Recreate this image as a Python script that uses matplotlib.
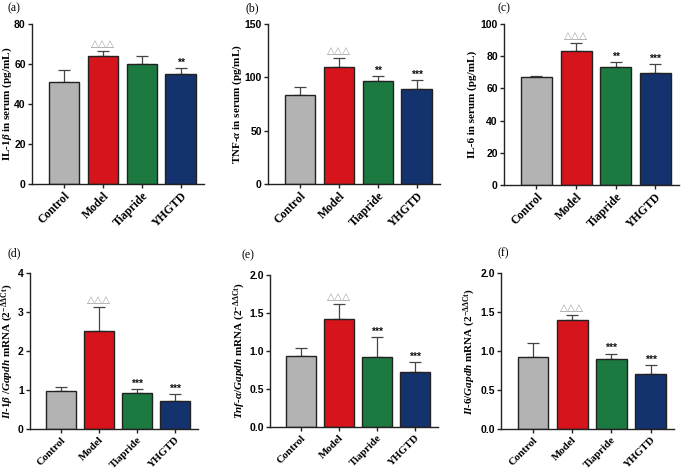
import numpy as np
import matplotlib
matplotlib.use("Agg")
import matplotlib.pyplot as plt

plt.rcParams["mathtext.fontset"] = "custom"
plt.rcParams["mathtext.rm"] = "Liberation Serif:bold"
plt.rcParams["mathtext.it"] = "Liberation Serif:italic:bold"
plt.rcParams["mathtext.bf"] = "Liberation Serif:bold"

groups = ["Control", "Model", "Tiapride", "YHGTD"]
colors = ["#b3b3b3", "#d6141c", "#1c7a40", "#14336e"]

# mean values and upper error (SD)
il1b_serum = [50.8, 64.0, 60.2, 54.9]
il1b_serum_err = [6.1, 2.7, 4.0, 3.0]
tnfa_serum = [83.9, 109.3, 96.1, 89.3]
tnfa_serum_err = [7.5, 9.1, 5.4, 7.8]
il6_serum = [66.9, 83.0, 73.5, 69.4]
il6_serum_err = [1.0, 5.0, 2.7, 5.5]
il1b_mrna = [0.975, 2.51, 0.915, 0.72]
il1b_mrna_err = [0.11, 0.61, 0.115, 0.18]
tnfa_mrna = [0.935, 1.426, 0.92, 0.73]
tnfa_mrna_err = [0.105, 0.19, 0.26, 0.12]
il6_mrna = [0.928, 1.40, 0.90, 0.708]
il6_mrna_err = [0.17, 0.057, 0.066, 0.112]

panels = [
    ("(a)", il1b_serum, il1b_serum_err, r"IL-1$\beta$ in serum (pg/mL)",
     (0, 80), np.arange(0, 81, 20), "{:.0f}", ["", "ddd", "", "**"]),
    ("(b)", tnfa_serum, tnfa_serum_err, r"TNF-$\alpha$ in serum (pg/mL)",
     (0, 150), np.arange(0, 151, 50), "{:.0f}", ["", "ddd", "**", "***"]),
    ("(c)", il6_serum, il6_serum_err, "IL-6 in serum (pg/mL)",
     (0, 100), np.arange(0, 101, 20), "{:.0f}", ["", "ddd", "**", "***"]),
    ("(d)", il1b_mrna, il1b_mrna_err,
     r"$Il$-$1\beta$ /$Gapdh$ mRNA (2$^{-\Delta\Delta \mathrm{Ct}}$)",
     (0, 4), np.arange(0, 5, 1), "{:.0f}", ["", "ddd", "***", "***"]),
    ("(e)", tnfa_mrna, tnfa_mrna_err,
     r"$Tnf$-$\alpha$/$Gapdh$ mRNA (2$^{-\Delta\Delta \mathrm{Ct}}$)",
     (0, 2), np.arange(0, 2.01, 0.5), "{:.1f}", ["", "ddd", "***", "***"]),
    ("(f)", il6_mrna, il6_mrna_err,
     r"$Il$-$6$/$Gapdh$ mRNA (2$^{-\Delta\Delta \mathrm{Ct}}$)",
     (0, 2), np.arange(0, 2.01, 0.5), "{:.1f}", ["", "ddd", "***", "***"]),
]

# axes boxes in pixels: left, top, right, bottom
W, H = 689, 473
boxes = [
    (32, 24, 204, 184),
    (268, 24, 440, 184),
    (504, 24, 679, 185),
    (30, 273, 198, 429),
    (270, 275, 438, 427),
    (501, 273, 674, 429),
]
letter_pos = [(7, 8), (245, 8), (497, 8), (7, 253), (242, 255), (498, 253)]
ylabel_x = [7.5, 237.5, 472, 8, 240, 470]
xlabel_size = [8.5, 8.5, 8.5, 7.8, 7.8, 7.8]

fig = plt.figure(figsize=(W / 100, H / 100), dpi=100)
x = np.arange(len(groups))

for (letter, vals, err, ylabel, ylim, yticks, fmt, marks), box, lp, lx, xs in zip(
        panels, boxes, letter_pos, ylabel_x, xlabel_size):
    l, t, r, b = box
    ax = fig.add_axes([l / W, 1 - b / H, (r - l) / W, (b - t) / H])
    ax.bar(x, vals, width=0.78, color=colors, edgecolor="#222222", linewidth=1.0, zorder=2)
    ax.errorbar(x, vals, yerr=[np.zeros(len(vals)), err], fmt="none",
                ecolor="#444444", elinewidth=0.9, capsize=4, capthick=0.9, zorder=1)
    ax.set_xlim(-0.82, 3.6)
    ax.set_ylim(*ylim)
    ax.set_yticks(yticks)
    ax.set_yticklabels([fmt.format(v) for v in yticks], fontsize=7.5,
                       fontweight="bold", family="Liberation Sans")
    ax.set_xticks(x)
    ax.set_xticklabels(groups, rotation=45, ha="right", rotation_mode="anchor",
                       fontsize=xs, fontweight="bold", family="Liberation Serif")
    for s in ["top", "right"]:
        ax.spines[s].set_visible(False)
    for s in ["left", "bottom"]:
        ax.spines[s].set_linewidth(1.0)
        ax.spines[s].set_color("#222222")
    ax.tick_params(direction="out", length=3, width=1.0, color="#222222", pad=1.5)

    span = ylim[1] - ylim[0]
    for xi, v, e, m in zip(x, vals, err, marks):
        if not m:
            continue
        top = v + e + span * 0.012
        if m == "ddd":
            ax.text(xi, top, "\u25b3\u25b3\u25b3", ha="center", va="bottom",
                    fontsize=7.5, color="#9a9a9a", family="DejaVu Sans")
        else:
            ax.text(xi, top - span * 0.01, m, ha="center", va="bottom",
                    fontsize=7.5, fontweight="bold", color="#111111", family="Liberation Sans")

    fig.text(lx / W, 1 - (t + b) / 2 / H, ylabel, rotation=90, ha="center", va="center",
             fontsize=8, fontweight="bold", family="Liberation Serif")
    fig.text(lp[0] / W, 1 - lp[1] / H, letter, fontsize=8.5, family="Liberation Serif",
             va="center", ha="left")

fig.savefig("out.png", dpi=100)
